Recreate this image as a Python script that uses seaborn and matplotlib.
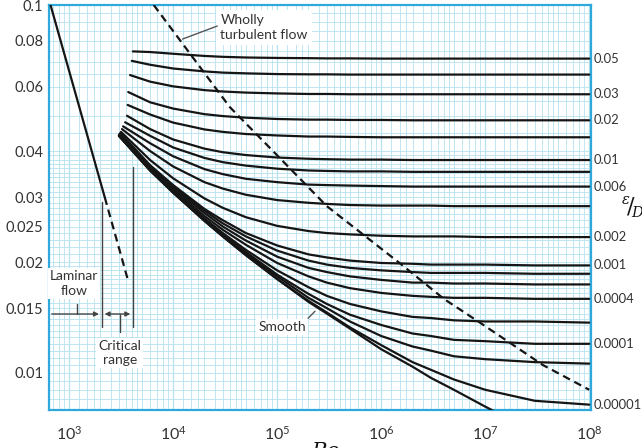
import matplotlib
matplotlib.use("Agg")
import matplotlib.pyplot as plt
import matplotlib.ticker as mticker
import pandas as pd
import seaborn as sns

# Reynolds numbers shared by the turbulent curves (each curve also has its own start point)
re_grid = [6e3, 1e4, 2e4, 3e4, 5e4, 1e5, 2e5, 3e5, 5e5, 1e6, 2e6, 3e6, 5e6, 1e7, 3e7, 1e8]

# relative roughness of each curve, top to bottom
rel_rough = ["0.05", "0.04", "0.03", "0.02", "0.015", "0.01", "0.008", "0.006", "0.004",
             "0.002", "0.001", "0.0008", "0.0006", "0.0004", "0.0002", "0.0001",
             "0.00005", "0.00001", "smooth"]
start_re = [4100, 4000, 3850, 3700, 3650, 3600, 3450, 3300, 3220,
            3150, 3100, 3080, 3060, 3050, 3040, 3030, 3020, 3010, 3000]
start_f = [0.0748, 0.0705, 0.0645, 0.0580, 0.0535, 0.0500, 0.0480, 0.0468, 0.0460,
           0.0452, 0.0449, 0.0447, 0.0446, 0.0445, 0.0444, 0.0443, 0.0442, 0.0441, 0.0441]

# friction factor read along re_grid for each curve
f_curves = [
    [0.0745, 0.0737, 0.0727, 0.0723, 0.0720, 0.0718, 0.0717, 0.0716, 0.0716, 0.0715, 0.0715, 0.0715, 0.0715, 0.0715, 0.0715, 0.0715],
    [0.0688, 0.0672, 0.0660, 0.0655, 0.0652, 0.0649, 0.0648, 0.0648, 0.0647, 0.0647, 0.0647, 0.0647, 0.0647, 0.0647, 0.0647, 0.0647],
    [0.0619, 0.0601, 0.0587, 0.0582, 0.0578, 0.0575, 0.0573, 0.0573, 0.0572, 0.0572, 0.0572, 0.0572, 0.0572, 0.0572, 0.0572, 0.0572],
    [0.0544, 0.0523, 0.0505, 0.0499, 0.0494, 0.0490, 0.0488, 0.0488, 0.0487, 0.0487, 0.0486, 0.0486, 0.0486, 0.0486, 0.0486, 0.0486],
    [0.0504, 0.0479, 0.0459, 0.0452, 0.0446, 0.0442, 0.0439, 0.0439, 0.0438, 0.0437, 0.0437, 0.0437, 0.0437, 0.0437, 0.0437, 0.0437],
    [0.0460, 0.0431, 0.0407, 0.0398, 0.0391, 0.0385, 0.0382, 0.0381, 0.0380, 0.0380, 0.0379, 0.0379, 0.0379, 0.0379, 0.0379, 0.0379],
    [0.0441, 0.0410, 0.0384, 0.0374, 0.0366, 0.0359, 0.0355, 0.0354, 0.0353, 0.0353, 0.0352, 0.0352, 0.0352, 0.0352, 0.0352, 0.0352],
    [0.0421, 0.0388, 0.0358, 0.0347, 0.0337, 0.0330, 0.0325, 0.0324, 0.0323, 0.0322, 0.0321, 0.0321, 0.0321, 0.0321, 0.0321, 0.0321],
    [0.0401, 0.0364, 0.0330, 0.0317, 0.0305, 0.0295, 0.0290, 0.0288, 0.0286, 0.0285, 0.0285, 0.0285, 0.0284, 0.0284, 0.0284, 0.0284],
    [0.0379, 0.0338, 0.0298, 0.0281, 0.0265, 0.0251, 0.0243, 0.0240, 0.0238, 0.0236, 0.0235, 0.0235, 0.0235, 0.0234, 0.0234, 0.0234],
    [0.0367, 0.0324, 0.0279, 0.0260, 0.0240, 0.0222, 0.0210, 0.0206, 0.0202, 0.0199, 0.0198, 0.0197, 0.0197, 0.0197, 0.0196, 0.0196],
    [0.0365, 0.0321, 0.0276, 0.0255, 0.0235, 0.0215, 0.0202, 0.0197, 0.0193, 0.0190, 0.0188, 0.0187, 0.0187, 0.0187, 0.0186, 0.0186],
    [0.0362, 0.0318, 0.0272, 0.0250, 0.0229, 0.0207, 0.0193, 0.0188, 0.0183, 0.0179, 0.0176, 0.0176, 0.0175, 0.0175, 0.0174, 0.0174],
    [0.0360, 0.0315, 0.0267, 0.0245, 0.0223, 0.0199, 0.0183, 0.0176, 0.0170, 0.0165, 0.0162, 0.0161, 0.0160, 0.0160, 0.0159, 0.0159],
    [0.0358, 0.0312, 0.0263, 0.0240, 0.0216, 0.0190, 0.0171, 0.0162, 0.0154, 0.0147, 0.0142, 0.0141, 0.0139, 0.0138, 0.0138, 0.0137],
    [0.0356, 0.0310, 0.0261, 0.0237, 0.0213, 0.0185, 0.0164, 0.0154, 0.0144, 0.0135, 0.0128, 0.0126, 0.0123, 0.0122, 0.0120, 0.0120],
    [0.0356, 0.0310, 0.0260, 0.0236, 0.0211, 0.0183, 0.0160, 0.0150, 0.0138, 0.0126, 0.0118, 0.0115, 0.0111, 0.0109, 0.0107, 0.0106],
    [0.0355, 0.0309, 0.0259, 0.0235, 0.0209, 0.0180, 0.0157, 0.0146, 0.0133, 0.0119, 0.0107, 0.0102, 0.0096, 0.0090, 0.0084, 0.0082],
    [0.0355, 0.0309, 0.0259, 0.0235, 0.0209, 0.0180, 0.0156, 0.0145, 0.0132, 0.0116, 0.0104, 0.0097, 0.0090, 0.0081, 0.0069, 0.0059],
]

# laminar line f = 64/Re (solid part, then dashed into the critical zone)
laminar_re = [662, 2200]
laminar_f = [0.100, 0.0300]
laminar_dash_re = [2200, 3650]
laminar_dash_f = [0.0300, 0.0180]

# boundary of the wholly turbulent zone
turb_re = [6500, 11600, 35000, 85000, 3.0e5, 1.5e6, 4.0e6, 8.9e6, 3.6e7, 1.0e8]
turb_f = [0.100, 0.0803, 0.0528, 0.0409, 0.0284, 0.0199, 0.0159, 0.0137, 0.0105, 0.0090]

right_labels = ["0.05", "0.03", "0.02", "0.01", "0.006", "0.002", "0.001", "0.0004",
                "0.0001", "0.00001"]
ytick_vals = [0.1, 0.08, 0.06, 0.04, 0.03, 0.025, 0.02, 0.015, 0.01]
ytick_text = ["0.1", "0.08", "0.06", "0.04", "0.03", "0.025", "0.02", "0.015", "0.01"]
xtick_vals = [1e3, 1e4, 1e5, 1e6, 1e7, 1e8]
xtick_text = [r"$\mathregular{10^{%d}}$" % k for k in range(3, 9)]

rows = []
for name, r0, f0, fs in zip(rel_rough, start_re, start_f, f_curves):
    rows.append((name, r0, f0))
    for r, f in zip(re_grid, fs):
        rows.append((name, r, f))
df = pd.DataFrame(rows, columns=["curve", "Re", "f"])
lam = pd.DataFrame({"Re": laminar_re, "f": laminar_f})
lam_dash = pd.DataFrame({"Re": laminar_dash_re, "f": laminar_dash_f})
turb = pd.DataFrame({"Re": turb_re, "f": turb_f})

sns.set_style("white")
plt.rcParams["font.family"] = ["Lato", "DejaVu Sans"]
plt.rcParams["mathtext.fontset"] = "custom"
plt.rcParams["mathtext.rm"] = "Lato"

blue = "#2fa8dc"
grid_c = "#b6e2ef"
ink = "#151515"
txt = "#333333"

fig = plt.figure(figsize=(6.42, 4.48), dpi=100)
ax = fig.add_axes([49 / 642, 1 - 410 / 448, 542 / 642, 405 / 448])
ax.set_xscale("log")
ax.set_yscale("log")
ax.set_xlim(640, 1.04e8)
ax.set_ylim(0.00793, 0.1)

# dense graph-paper grid
subs_x = [1, 1.25, 1.5, 1.75, 2, 2.5, 3, 3.5, 4, 4.5, 5, 6, 7, 8, 9]
for d in range(2, 9):
    for s in subs_x:
        v = s * 10 ** d
        ax.axvline(v, color=grid_c, lw=0.9 if s == 1 else 0.6, zorder=0)
ygrid = ([0.0075 + 0.0005 * i for i in range(26)] + [0.021 + 0.001 * i for i in range(20)]
         + [0.045 + 0.005 * i for i in range(12)])
for v in ygrid:
    ax.axhline(v, color=grid_c, lw=0.6, zorder=0)

sns.lineplot(data=df, x="Re", y="f", units="curve", estimator=None, sort=False,
             color=ink, lw=1.6, legend=False, ax=ax, zorder=3)
sns.lineplot(data=lam, x="Re", y="f", color=ink, lw=1.6, ax=ax, zorder=3)
sns.lineplot(data=lam_dash, x="Re", y="f", color=ink, lw=1.6, ax=ax, zorder=3,
             linestyle=(0, (3.5, 2.2)))
sns.lineplot(data=turb, x="Re", y="f", color=ink, lw=1.6, ax=ax, zorder=3,
             linestyle=(0, (3.5, 2.2)))

# laminar / critical range markers
re_lam_end, re_crit_end = 2060, 4120
f_arrow = 0.01446
ax.plot([re_lam_end, re_lam_end], [0.01334, 0.0291], color="#444444", lw=1.0, zorder=2)
ax.plot([re_crit_end, re_crit_end], [0.01334, 0.0363], color="#444444", lw=1.0, zorder=2)
ax.annotate("", xy=(re_lam_end, f_arrow), xytext=(640, f_arrow),
            arrowprops=dict(arrowstyle="-|>", color="#444444", lw=1.0, mutation_scale=7))
ax.annotate("", xy=(re_lam_end, f_arrow), xytext=(re_crit_end, f_arrow),
            arrowprops=dict(arrowstyle="<|-|>", color="#444444", lw=1.0, mutation_scale=7))
ax.plot([1186, 1186], [0.0154, f_arrow], color="#444444", lw=1.0)
ax.plot([3073, 3073], [f_arrow, 0.01293], color="#444444", lw=1.0)

box = dict(facecolor="white", edgecolor="none", pad=1.5)
ax.text(1110, 0.0175, "Laminar\nflow", ha="center", va="center", fontsize=10,
        color=txt, linespacing=1.25, bbox=box, zorder=4)
ax.text(3073, 0.01134, "Critical\nrange", ha="center", va="center", fontsize=10,
        color=txt, linespacing=1.25, bbox=box, zorder=4)
ax.text(28500, 0.0869, "Wholly\nturbulent flow", ha="left", va="center", fontsize=10,
        color=txt, linespacing=1.3, bbox=dict(facecolor="white", edgecolor="none", pad=3),
        zorder=4)
ax.annotate("", xy=(11600, 0.0803), xytext=(28100, 0.0882),
            arrowprops=dict(arrowstyle="-", color="#555555", lw=1.0), zorder=4)
ax.text(1.11e5, 0.01334, "Smooth", ha="center", va="center", fontsize=10, color=txt,
        bbox=box, zorder=4)
ax.annotate("", xy=(2.41e5, 0.0149), xytext=(1.9e5, 0.0139),
            arrowprops=dict(arrowstyle="-", color="#555555", lw=1.0), zorder=4)

# epsilon/D labels at the right end of the curves
end_f = dict(zip(rel_rough, [fs[-1] for fs in f_curves]))
for lab in right_labels:
    ax.text(1.004, end_f[lab], lab, transform=ax.get_yaxis_transform(), ha="left",
            va="center", fontsize=9.4, color=txt)

# axes styling
for sp in ax.spines.values():
    sp.set_color(blue)
    sp.set_linewidth(1.6)
ax.yaxis.set_major_locator(mticker.FixedLocator(ytick_vals))
ax.yaxis.set_major_formatter(mticker.FixedFormatter(ytick_text))
ax.yaxis.set_minor_locator(mticker.FixedLocator([0.09, 0.07, 0.05, 0.009]))
ax.yaxis.set_minor_formatter(mticker.NullFormatter())
ax.xaxis.set_major_locator(mticker.FixedLocator(xtick_vals))
ax.xaxis.set_major_formatter(mticker.FixedFormatter(xtick_text))
ax.xaxis.set_minor_locator(mticker.LogLocator(base=10, subs=[2, 4, 6, 8], numticks=20))
ax.xaxis.set_minor_formatter(mticker.NullFormatter())
ax.tick_params(axis="y", which="both", direction="in", length=6, width=1.0,
               color="#555555", labelsize=10.5, labelcolor=txt, pad=4)
ax.tick_params(axis="x", which="major", direction="out", length=8, width=1.0,
               color="#555555", labelsize=11.5, labelcolor=txt, pad=3)
ax.tick_params(axis="x", which="minor", direction="in", length=7, width=1.0,
               color="#555555")
ax.set_xlabel("")
ax.set_ylabel("")

serif = ["DejaVu Serif"]
fig.text(626 / 642, 1 - 200 / 448, "ε", fontsize=10.5, family=serif, style="italic",
         ha="center", va="center", color=ink)
fig.text(631 / 642, 1 - 206 / 448, "/", fontsize=16, family=serif, ha="center",
         va="center", color=ink)
fig.text(637 / 642, 1 - 213 / 448, "D", fontsize=10.5, family=serif, style="italic",
         ha="center", va="center", color=ink)
fig.text(325 / 642, 1 - 451 / 448, "Re", fontsize=15, family=serif, style="italic",
         ha="center", va="center", color=ink)

fig.savefig("out.png", dpi=100)
